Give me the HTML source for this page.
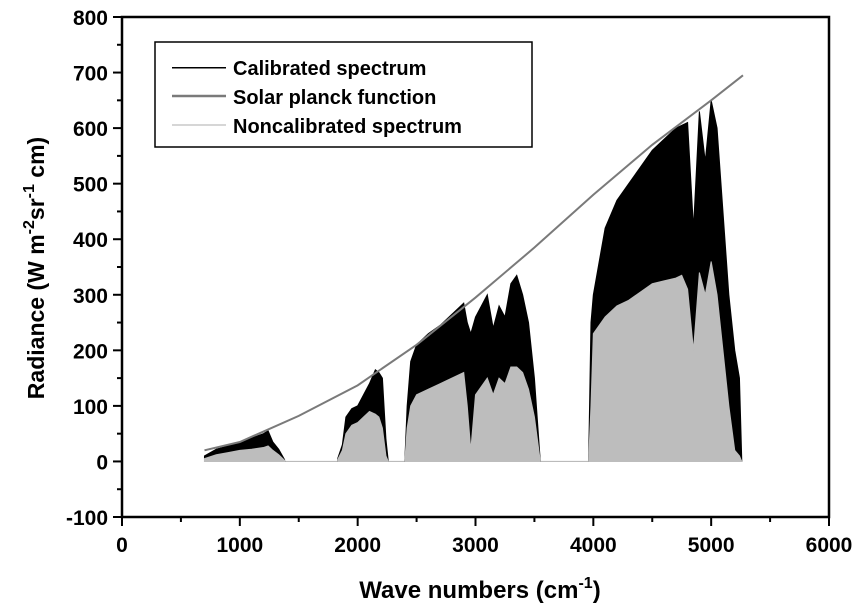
<!DOCTYPE html>
<html><head><meta charset="utf-8"><style>
body{margin:0;background:#fff}
svg text{font-family:"Liberation Sans",Arial,sans-serif;font-weight:bold}
</style></head><body>
<svg id="c" width="856" height="608"></svg>
<script>
const xTicks=[0,1000,2000,3000,4000,5000,6000];
const yTicks=[-100,0,100,200,300,400,500,600,700,800];
const planckX=[700,1000,1500,2000,2500,3000,3500,4000,4500,5000,5270];
const planckY=[20,35,82,137,210,295,385,480,570,650,695];
const bands=[
 {x:[700,800,900,1000,1100,1200,1240,1280,1330,1380],cal:[10,22,28,35,42,50,55,35,22,3],non:[5,12,16,20,22,25,28,20,12,2]},
 {x:[1830,1870,1900,1950,2000,2050,2100,2150,2180,2210,2240,2260],cal:[5,30,80,95,100,120,140,165,160,150,40,0],non:[3,20,50,65,70,80,90,85,80,60,10,0]},
 {x:[2400,2420,2450,2500,2600,2700,2800,2900,2930,2960,3000,3100,3150,3200,3250,3300,3350,3400,3450,3500,3550],cal:[0,100,180,210,230,245,265,285,250,230,260,300,240,280,260,320,335,300,250,150,0],non:[0,60,100,120,130,140,150,160,100,20,120,150,120,150,140,170,170,160,130,80,0]},
 {x:[3960,3980,4000,4100,4200,4300,4400,4500,4600,4700,4750,4800,4850,4900,4950,5000,5050,5100,5150,5200,5240,5260],cal:[0,250,300,420,470,500,530,560,580,600,605,610,420,630,540,650,600,450,300,200,150,0],non:[0,100,230,260,280,290,305,320,325,330,335,310,200,340,300,360,300,200,100,20,10,0]}
];
const L=122,R=829,T=17,B=517;
const sx=v=>L+(v-0)/6000*(R-L);
const sy=v=>B-(v+100)/900*(B-T);
const svg=document.getElementById('c');
const NS='http://www.w3.org/2000/svg';
function mk(t,a,p){const e=document.createElementNS(NS,t);for(const k in a)e.setAttribute(k,a[k]);(p||svg).appendChild(e);return e;}
let e=mk('line',{x1:sx(1380),x2:sx(3960),y1:sy(0),y2:sy(0),stroke:'#bbb','stroke-width':1.2});


bands.forEach((b,i)=>{
  let pc='M'+sx(b.x[0])+','+sy(0);
  b.x.forEach((x,j)=>pc+=' L'+sx(x)+','+sy(b.cal[j]));
  pc+=' L'+sx(b.x[b.x.length-1])+','+sy(0)+'Z';
  let p=mk('path',{d:pc,fill:'#000',stroke:'#000','stroke-width':1});
  
  
  let pn='M'+sx(b.x[0])+','+sy(0);
  b.x.forEach((x,j)=>pn+=' L'+sx(x)+','+sy(b.non[j]));
  pn+=' L'+sx(b.x[b.x.length-1])+','+sy(0)+'Z';
  let q=mk('path',{d:pn,fill:'#bdbdbd',stroke:'#bdbdbd','stroke-width':1});
  
  
});
let pd='';planckX.forEach((x,j)=>pd+=(j?' L':'M')+sx(x)+','+sy(planckY[j]));
e=mk('path',{d:pd,fill:'none',stroke:'#7a7a7a','stroke-width':2});


e=mk('rect',{x:L,y:T,width:R-L,height:B-T,fill:'none',stroke:'#000','stroke-width':2.5});


for(let v=0;v<=6000;v+=500){mk('line',{x1:sx(v),x2:sx(v),y1:B,y2:B+(v%1000?5:9),stroke:'#000','stroke-width':2});}
for(let v=-100;v<=800;v+=50){mk('line',{x1:L,x2:L-(v%100?5:9),y1:sy(v),y2:sy(v),stroke:'#000','stroke-width':2});}
xTicks.forEach(v=>{const t=mk('text',{x:sx(v),y:B+35,'text-anchor':'middle','font-size':21});t.textContent=v;

});
yTicks.forEach(v=>{const t=mk('text',{x:L-14,y:sy(v)+8,'text-anchor':'end','font-size':21});t.textContent=v;

});
</script>
<svg width="856" height="608" style="position:absolute;left:0;top:0">
<text x="480" y="598" text-anchor="middle" font-size="24">Wave numbers (cm<tspan dy="-10" font-size="16">-1</tspan><tspan dy="10">)</tspan></text>
<text transform="translate(44,268) rotate(-90)" text-anchor="middle" font-size="23">Radiance (W m<tspan dy="-10" font-size="16">-2</tspan><tspan dy="10">sr</tspan><tspan dy="-10" font-size="16">-1</tspan><tspan dy="10"> cm)</tspan></text>
<g>
<rect x="155" y="42" width="377" height="105" fill="#fff" stroke="#000" stroke-width="1.5"/>
<line x1="172" x2="226" y1="67.5" y2="67.5" stroke="#000" stroke-width="1.5" shape-rendering="crispEdges"/>
<line x1="172" x2="226" y1="96" y2="96" stroke="#7a7a7a" stroke-width="2.5"/>
<line x1="172" x2="226" y1="125" y2="125" stroke="#bdbdbd" stroke-width="1.2"/>
<text x="233" y="75" font-size="20">Calibrated spectrum</text>
<text x="233" y="104" font-size="20">Solar planck function</text>
<text x="233" y="133" font-size="20">Noncalibrated spectrum</text>
</g>
</svg>
</body></html>
